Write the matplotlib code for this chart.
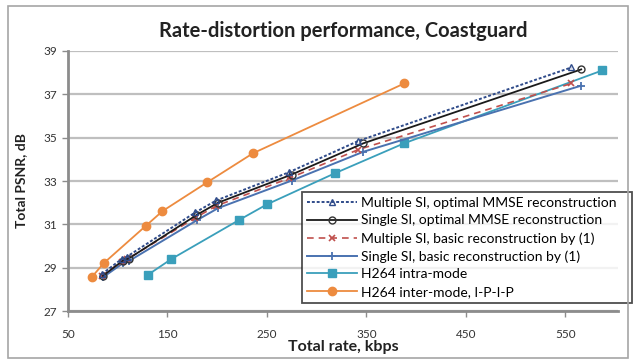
import matplotlib.pyplot as plt
from matplotlib.patches import Rectangle

# rate (kbps) / PSNR (dB) pairs for each coding scheme
multi_opt_rate = [84, 104, 109, 178, 199, 272, 342, 556]
multi_opt_psnr = [28.70, 29.40, 29.50, 31.55, 32.10, 33.40, 34.85, 38.24]

single_opt_rate = [85, 105, 111, 180, 201, 275, 347, 566]
single_opt_psnr = [28.62, 29.32, 29.42, 31.45, 32.00, 33.30, 34.74, 38.15]

multi_basic_rate = [84, 104, 109, 178, 199, 272, 342, 556]
multi_basic_psnr = [28.62, 29.28, 29.38, 31.30, 31.85, 33.12, 34.45, 37.50]

single_basic_rate = [85, 105, 111, 180, 201, 275, 347, 566]
single_basic_psnr = [28.55, 29.20, 29.30, 31.20, 31.75, 33.02, 34.35, 37.40]

intra_rate = [130, 154, 222, 250, 318, 388, 587]
intra_psnr = [28.66, 29.40, 31.20, 31.92, 33.35, 34.74, 38.10]

inter_rate = [74, 86, 128, 145, 190, 236, 388]
inter_psnr = [28.57, 29.21, 30.92, 31.61, 32.94, 34.28, 37.50]

xticks = [50, 150, 250, 350, 450, 550]
yticks = [27, 29, 31, 33, 35, 37, 39]

labels = [
    "Multiple SI, optimal MMSE reconstruction",
    "Single SI, optimal MMSE reconstruction",
    "Multiple SI, basic reconstruction by (1)",
    "Single SI, basic reconstruction by (1)",
    "H264 intra-mode",
    "H264 inter-mode, I-P-I-P",
]

plt.rcParams['font.family'] = ['Lato', 'DejaVu Sans']

fig = plt.figure(figsize=(6.35, 3.62), dpi=100)
ax = fig.add_axes([68 / 635, 1 - 311 / 362, 550 / 635, 260 / 362])

# outer chart frame
fig.patches.append(Rectangle((8 / 635, 4 / 362), 620 / 635, 352 / 362,
                             transform=fig.transFigure, fill=False,
                             edgecolor='#a6a6a6', linewidth=1.2))

ax.plot(inter_rate, inter_psnr, color='#ed8b3f', lw=1.3, marker='o',
        ms=6, mfc='#ed8b3f', mec='#ed8b3f', label=labels[5], zorder=3)
ax.plot(intra_rate, intra_psnr, color='#3a9fbb', lw=1.3, marker='s',
        ms=6, mfc='#3a9fbb', mec='#3a9fbb', label=labels[4], zorder=3)
ax.plot(single_basic_rate, single_basic_psnr, color='#4a72b0', lw=1.4,
        marker='+', ms=6, mew=1.3, label=labels[3], zorder=4)
ax.plot(multi_basic_rate, multi_basic_psnr, color='#c0504d', lw=1.2,
        ls=(0, (4, 3)), marker='x', ms=5, mew=1.2, label=labels[2], zorder=5)
ax.plot(single_opt_rate, single_opt_psnr, color='#1a1a1a', lw=1.3,
        marker='o', ms=5, mfc='none', mec='#333333', label=labels[1], zorder=6)
ax.plot(multi_opt_rate, multi_opt_psnr, color='#2f4b8a', lw=1.4,
        ls=(0, (1.5, 1)), marker='^', ms=5, mfc='none', mec='#2f4b8a',
        label=labels[0], zorder=7)

ax.set_xlim(50, 603)
ax.set_ylim(27, 39)
ax.set_xticks(xticks)
ax.set_yticks(yticks)
ax.grid(axis='y', color='#bfbfbf', lw=1.6)
ax.set_axisbelow(True)

for side in ['top', 'right']:
    ax.spines[side].set_visible(False)
for side in ['left', 'bottom']:
    ax.spines[side].set_color('#8c8c8c')
    ax.spines[side].set_linewidth(2)

ax.tick_params(axis='both', colors='#8c8c8c', length=4, width=1,
               labelsize=8.5, labelcolor='#333333')
ax.tick_params(axis='x', pad=9)

ax.set_title("Rate-distortion performance, Coastguard", fontsize=14.5,
             fontweight='bold', color='#222222', pad=10)
ax.set_xlabel("Total rate, kbps", fontsize=11.5, fontweight='bold',
              color='#222222', labelpad=0)
ax.set_ylabel("Total PSNR, dB", fontsize=10, fontweight='bold',
              color='#222222', labelpad=12)

handles, lbls = ax.get_legend_handles_labels()
order = [5, 4, 3, 2, 1, 0]
leg = ax.legend([handles[i] for i in order], [lbls[i] for i in order],
                loc='upper left',
                bbox_to_anchor=(302 / 635, 1 - 192 / 362, 330 / 635, 0),
                bbox_transform=fig.transFigure, mode='expand', fontsize=10,
                frameon=True, fancybox=False, shadow=False,
                handlelength=3.6, handletextpad=0.3, labelspacing=0.4,
                borderpad=0.35, borderaxespad=0)
leg.get_frame().set_edgecolor('#222222')
leg.get_frame().set_linewidth(1.3)

fig.savefig("out.png", dpi=100)
